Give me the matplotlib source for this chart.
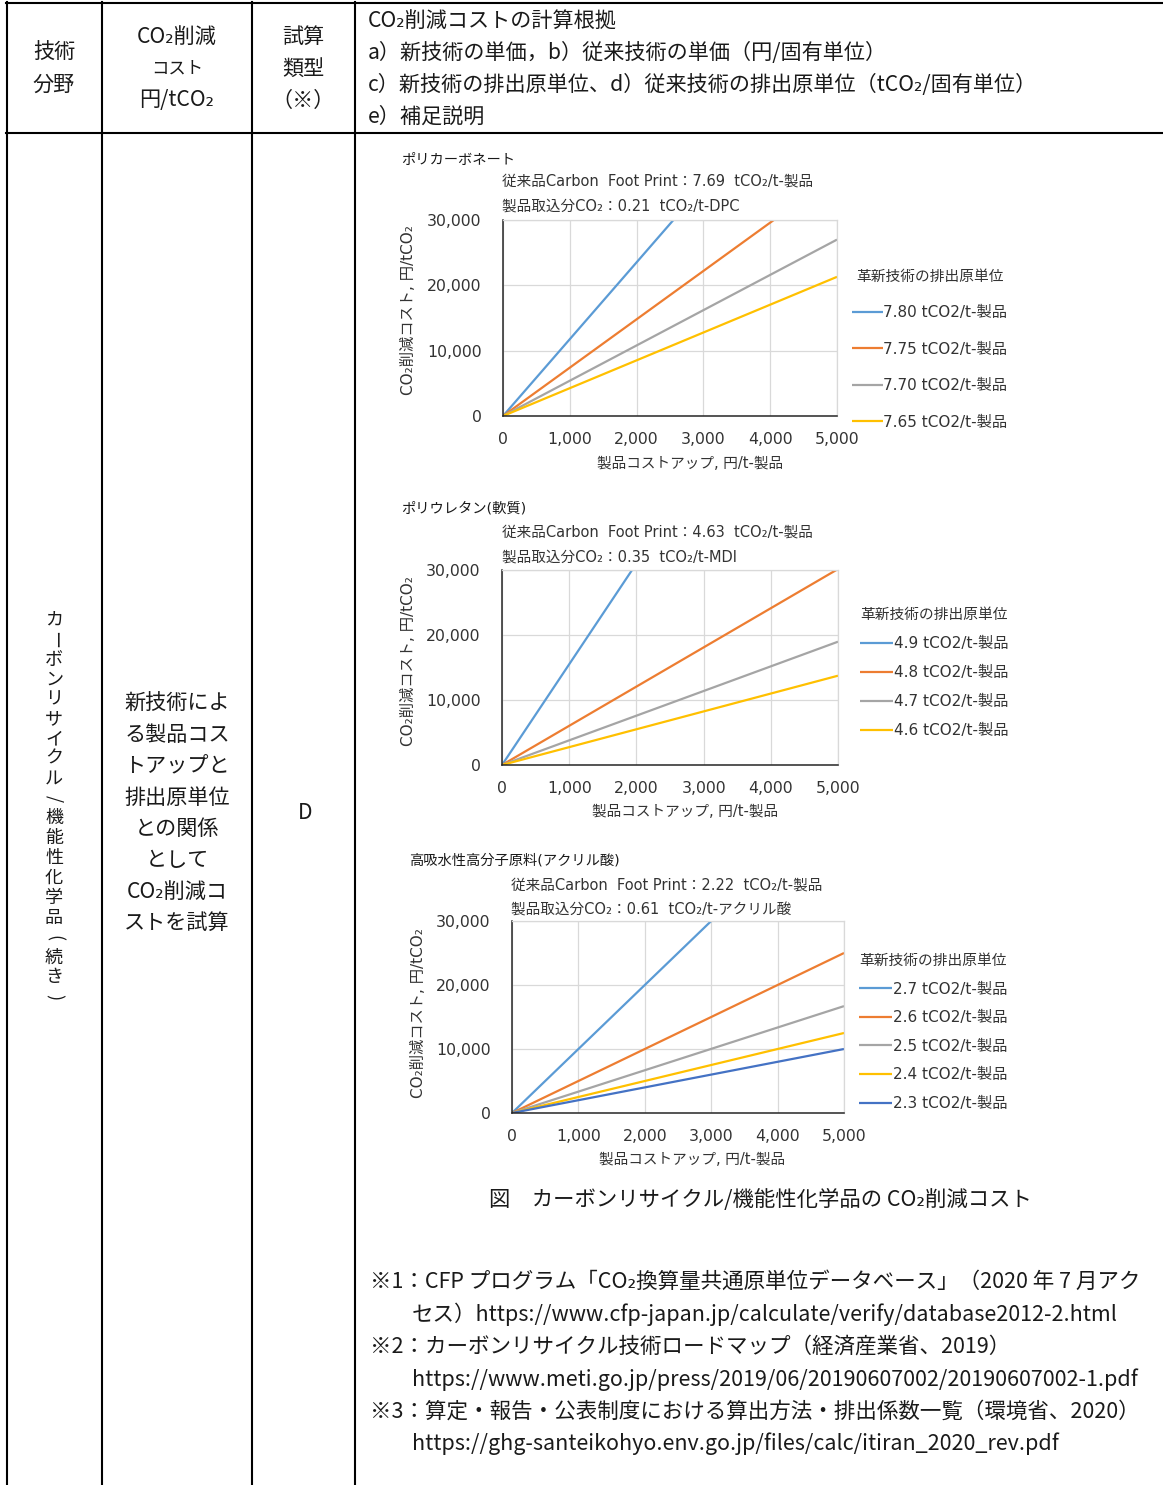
import numpy as np
import matplotlib
matplotlib.use("Agg")
import matplotlib.pyplot as plt
from matplotlib.ticker import StrMethodFormatter

# ── fonts ─────────────────────────────────────────────────────────────────────
CHART_FONT = ["DejaVu Sans", "Noto Sans CJK JP"]
TABLE_FONT = ["Noto Sans CJK JP", "DejaVu Sans"]
plt.rcParams["font.family"] = CHART_FONT

# ── data ──────────────────────────────────────────────────────────────────────
COST_UP = [0, 5000]          # 製品コストアップ, 円/t-製品

PC_LABELS = ["7.80 tCO2/t-製品", "7.75 tCO2/t-製品",
             "7.70 tCO2/t-製品", "7.65 tCO2/t-製品"]
PC_COST = [[0, 58800], [0, 37000], [0, 27000], [0, 21300]]

PU_LABELS = ["4.9 tCO2/t-製品", "4.8 tCO2/t-製品",
             "4.7 tCO2/t-製品", "4.6 tCO2/t-製品"]
PU_COST = [[0, 77500], [0, 30150], [0, 18970], [0, 13740]]

AA_LABELS = ["2.7 tCO2/t-製品", "2.6 tCO2/t-製品", "2.5 tCO2/t-製品",
             "2.4 tCO2/t-製品", "2.3 tCO2/t-製品"]
AA_COST = [[0, 50000], [0, 25000], [0, 16700], [0, 12500], [0, 10000]]

X_TICKS = [0, 1000, 2000, 3000, 4000, 5000]
Y_TICKS = [0, 10000, 20000, 30000]

COLORS = ["#5B9BD5", "#ED7D31", "#A5A5A5", "#FFC000", "#4472C4"]

# ── figure in pixel units ─────────────────────────────────────────────────────
W, H = 1163, 1485
fig = plt.figure(figsize=(W / 100, H / 100), dpi=100, facecolor="white")
bg = fig.add_axes([0, 0, 1, 1])
bg.set_xlim(0, W)
bg.set_ylim(H, 0)
bg.axis("off")

# table rules
LW = 1.5
bg.plot([6, W], [2.5, 2.5], color="black", lw=LW)
bg.plot([6, W], [132.5, 132.5], color="black", lw=LW)
for xv in [6.7, 101.7, 251.7, 355]:
    bg.plot([xv, xv], [2, H], color="black", lw=LW)


def ttext(x, y, s, size=15.2, ha="center", **kw):
    bg.text(x, y, s, fontsize=size, ha=ha, va="center", family=TABLE_FONT,
            color="#1a1a1a", **kw)


# header row
ttext(54, 53, "技術")
ttext(54, 85, "分野")
ttext(177, 37, "CO₂削減")
ttext(177, 69, "コスト", size=12.5)
ttext(177, 100, "円/tCO₂")
ttext(303, 37, "試算")
ttext(303, 69, "類型")
ttext(303, 101, "（※）")
HEADER_LINES = [
    "CO₂削減コストの計算根拠",
    "a）新技術の単価，b）従来技術の単価（円/固有単位）",
    "c）新技術の排出原単位、d）従来技術の排出原単位（tCO₂/固有単位）",
    "e）補足説明",
]
for i, s in enumerate(HEADER_LINES):
    ttext(368, 21 + 32 * i, s, ha="left")

# body: vertical field name, one glyph per step
FIELD = "カーボンリサイクル/機能性化学品(続き)"
for i, ch in enumerate(FIELD):
    rot = -90 if ch in "ー/()" else 0
    bg.text(54, 620 + 19.85 * i, ch, fontsize=13, ha="center", va="center",
            rotation=rot, family=TABLE_FONT, color="#1a1a1a")

BODY_LINES = ["新技術によ", "る製品コス", "トアップと", "排出原単位",
              "との関係", "として", "CO₂削減コ", "ストを試算"]
for i, s in enumerate(BODY_LINES):
    ttext(177, 704 + 31.3 * i, s)
ttext(305, 813, "D")


# ── charts ────────────────────────────────────────────────────────────────────
def draw_chart(box, costs, labels, title, sub1, sub2, title_xy, sub_x,
               sub_y, ylab_xy, xlab_xy, leg_xy, leg_space, handle_len):
    x0, y0, x1, y1 = box
    ax = fig.add_axes([x0 / W, 1 - y1 / H, (x1 - x0) / W, (y1 - y0) / H])
    ax.set_facecolor("white")
    for c, lab, col in zip(costs, labels, COLORS):
        ax.plot(COST_UP, c, color=col, lw=1.6, label=lab,
                solid_capstyle="butt")
    ax.set_xlim(0, 5000)
    ax.set_ylim(0, 30000)
    ax.set_xticks(X_TICKS)
    ax.set_yticks(Y_TICKS)
    ax.xaxis.set_major_formatter(StrMethodFormatter("{x:,.0f}"))
    ax.yaxis.set_major_formatter(StrMethodFormatter("{x:,.0f}"))
    ax.grid(True, color="#D9D9D9", lw=0.9)
    ax.set_axisbelow(True)
    for side in ["top", "right"]:
        ax.spines[side].set_color("#D9D9D9")
        ax.spines[side].set_linewidth(0.9)
    for side in ["left", "bottom"]:
        ax.spines[side].set_color("#262626")
        ax.spines[side].set_linewidth(1.1)
    ax.tick_params(axis="both", length=0, labelsize=11.3, colors="#333333")
    ax.tick_params(axis="y", pad=15.5)
    ax.tick_params(axis="x", pad=11.5)

    leg = ax.legend(loc="upper left", bbox_to_anchor=leg_xy,
                    bbox_transform=bg.transData, frameon=False,
                    fontsize=11, title="革新技術の排出原単位",
                    title_fontsize=10.6, borderpad=0, borderaxespad=0,
                    labelspacing=leg_space, handlelength=handle_len,
                    handletextpad=0.05)
    for t in leg.get_texts():
        t.set_color("#333333")
    leg.get_title().set_color("#333333")

    bg.text(*title_xy, title, fontsize=10.3, ha="left", va="center",
            color="#1a1a1a")
    bg.text(sub_x, sub_y, sub1, fontsize=10.5, ha="left", va="center",
            color="#333333")
    bg.text(sub_x, sub_y + 25, sub2, fontsize=10.5, ha="left", va="center",
            color="#333333")
    bg.text(*ylab_xy, "CO₂削減コスト, 円/tCO₂", fontsize=11, rotation=90,
            ha="center", va="center", color="#333333")
    bg.text(*xlab_xy, "製品コストアップ, 円/t-製品", fontsize=10.5,
            ha="center", va="center", color="#333333")
    return ax


draw_chart((503, 220, 837, 416), PC_COST, PC_LABELS, "ポリカーボネート",
           "従来品Carbon  Foot Print：7.69  tCO₂/t-製品",
           "製品取込分CO₂：0.21  tCO₂/t-DPC",
           (401, 160), 502, 181, (408, 310), (690, 463), (852, 269),
           1.4, 2.0)

draw_chart((502, 570, 838, 765), PU_COST, PU_LABELS, "ポリウレタン(軟質)",
           "従来品Carbon  Foot Print：4.63  tCO₂/t-製品",
           "製品取込分CO₂：0.35  tCO₂/t-MDI",
           (401, 508), 502, 532, (408, 661), (685, 812), (860, 607),
           0.92, 2.15)

draw_chart((512, 921, 844, 1113), AA_COST, AA_LABELS,
           "高吸水性高分子原料(アクリル酸)",
           "従来品Carbon  Foot Print：2.22  tCO₂/t-製品",
           "製品取込分CO₂：0.61  tCO₂/t-アクリル酸",
           (409, 860), 511, 885, (418, 1013), (692, 1160), (859, 953),
           0.89, 2.15)

# ── caption and notes ─────────────────────────────────────────────────────────
ttext(760, 1200, "図　カーボンリサイクル/機能性化学品の CO₂削減コスト", size=15.4)

NOTES = [
    (370, "※1：CFP プログラム「CO₂換算量共通原単位データベース」（2020 年 7 月アク"),
    (412, "セス）https://www.cfp-japan.jp/calculate/verify/database2012-2.html"),
    (370, "※2：カーボンリサイクル技術ロードマップ（経済産業省、2019）"),
    (412, "https://www.meti.go.jp/press/2019/06/20190607002/20190607002-1.pdf"),
    (370, "※3：算定・報告・公表制度における算出方法・排出係数一覧（環境省、2020）"),
    (412, "https://ghg-santeikohyo.env.go.jp/files/calc/itiran_2020_rev.pdf"),
]
for i, (xn, s) in enumerate(NOTES):
    ttext(xn, 1282 + 32.4 * i, s, size=15.5, ha="left")

fig.savefig("out.png", dpi=100, facecolor="white")
